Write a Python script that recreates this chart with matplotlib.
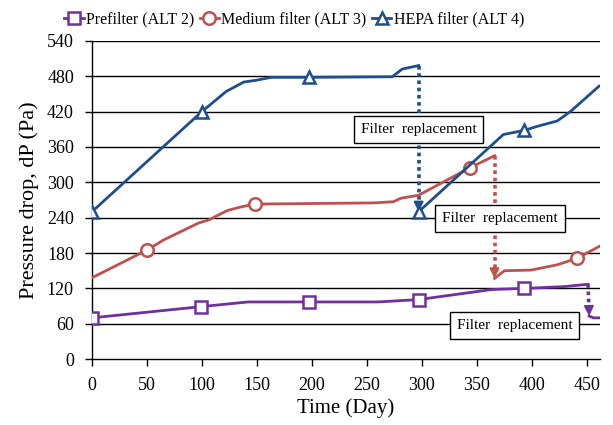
import matplotlib
matplotlib.use("Agg")
import matplotlib.pyplot as plt
import numpy as np

plt.rcParams['font.family'] = ['Liberation Serif', 'DejaVu Serif']

# Prefilter (ALT 2)
pre_days1 = [0, 99, 142, 197, 260, 297, 363, 393, 429, 451]
pre_vals1 = [70, 89, 97, 97, 97, 101, 118, 120, 123, 127]
pre_days2 = [452, 456, 461]
pre_vals2 = [73, 70, 70]
pre_marks = [0, 99, 197, 297, 393]

# Medium filter (ALT 3)
med_days1 = [0, 50, 65, 97, 106, 123, 135, 148, 256, 274, 281, 297, 344, 366]
med_vals1 = [138, 185, 202, 231, 236, 252, 258, 263, 265, 267, 273, 278, 325, 345]
med_days2 = [366, 375, 399, 423, 441, 461]
med_vals2 = [137, 150, 151, 160, 171, 191]
med_marks = [50, 148, 344, 441]

# HEPA filter (ALT 4)
hepa_days1 = [0, 100, 122, 138, 149, 163, 197, 273, 282, 297]
hepa_vals1 = [250, 420, 454, 470, 473, 478, 478, 479, 492, 498]
hepa_days2 = [297, 374, 393, 405, 423, 435, 461]
hepa_vals2 = [250, 381, 388, 395, 404, 420, 463]
hepa_marks = [0, 100, 197, 297, 393]

x_ticks = [0, 50, 100, 150, 200, 250, 300, 350, 400, 450]
y_ticks = [0, 60, 120, 180, 240, 300, 360, 420, 480, 540]

purple = '#7030A0'
red = '#C0504D'
blue = '#1F4E8C'

fig = plt.figure(figsize=(6.13, 4.25), dpi=100)
ax = fig.add_axes([0.150, 0.155, 0.829, 0.749])


def draw(days1, vals1, days2, vals2, marks, color, marker, label):
    d = list(days1) + [np.nan] + list(days2)
    v = list(vals1) + [np.nan] + list(vals2)
    seen = set()
    every = []
    for i, x in enumerate(d):
        if x not in marks or x in seen:
            continue
        # the marker at a replacement day sits on the restart, not the old end
        if i == len(days1) - 1 and days2[0] == x:
            continue
        seen.add(x)
        every.append(i)
    ax.plot(d, v, color=color, lw=2, marker=marker, markersize=9,
            markerfacecolor='white', markeredgewidth=1.8, markevery=every,
            label=label, zorder=3)
    # replacement arrow (dotted shaft + solid head)
    x0, y0 = days1[-1], vals1[-1]
    x1, y1 = days2[0], vals2[0]
    ax.plot([x0, x0 + (x1 - x0) * 0.8], [y0, y1 + 14], color=color, lw=2.6,
            linestyle=(0, (1, 1)), zorder=2)
    ax.annotate('', xy=(x1, y1), xytext=(x0 + (x1 - x0) * 0.8, y1 + 16),
                arrowprops=dict(arrowstyle='-|>', color=color, lw=1.5,
                                mutation_scale=14, shrinkA=0, shrinkB=0),
                zorder=2)


draw(pre_days1, pre_vals1, pre_days2, pre_vals2, pre_marks, purple, 's', 'Prefilter (ALT 2)')
draw(med_days1, med_vals1, med_days2, med_vals2, med_marks, red, 'o', 'Medium filter (ALT 3)')
draw(hepa_days1, hepa_vals1, hepa_days2, hepa_vals2, hepa_marks, blue, '^', 'HEPA filter (ALT 4)')

box = dict(boxstyle='square,pad=0.45', facecolor='white', edgecolor='black', lw=1)
ax.text(297, 390, 'Filter  replacement', ha='center', va='center', fontsize=11, bbox=box, zorder=5)
ax.text(371, 239, 'Filter  replacement', ha='center', va='center', fontsize=11, bbox=box, zorder=5)
ax.text(384, 57, 'Filter  replacement', ha='center', va='center', fontsize=11, bbox=box, zorder=5)

ax.set_xlim(0, 462)
ax.set_ylim(0, 540)
ax.set_xticks(x_ticks)
ax.set_yticks(y_ticks)
ax.tick_params(labelsize=13, direction='out', length=5, width=1, color='black', pad=8)
for yt in y_ticks[1:]:
    ax.axhline(yt, color='black', lw=1, zorder=1)
ax.spines['top'].set_visible(False)
ax.spines['right'].set_visible(False)
ax.spines['left'].set_linewidth(1)
ax.spines['bottom'].set_linewidth(1)

ax.set_xlabel('Time (Day)', fontsize=15, labelpad=3)
ax.set_ylabel('Pressure drop, dP (Pa)', fontsize=16, labelpad=6)

fig.legend(loc='center', bbox_to_anchor=(0.48, 0.955), ncol=3, frameon=False,
           fontsize=11.5, handlelength=1.2, handletextpad=0.15, columnspacing=0.35,
           borderaxespad=0)

fig.savefig('out.png', dpi=100)
